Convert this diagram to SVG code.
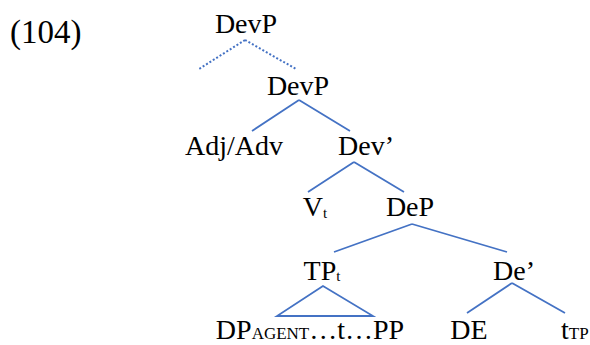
<svg xmlns="http://www.w3.org/2000/svg" width="590" height="345" viewBox="0 0 590 345" font-family="'Liberation Serif', 'Times New Roman', serif">
<style>
text{font-family:'Liberation Serif','Times New Roman',serif;fill:#000}
.n{font-size:28px;text-anchor:middle}
.s{font-size:17px}
.st{font-size:15px}
.e{stroke:#4472C4;stroke-width:1.8;fill:none}
.d{stroke:#4472C4;stroke-width:2;stroke-dasharray:2 2;fill:none}
</style>
<rect width="590" height="345" fill="#fff"/>
<text x="10" y="43" font-size="33" font-family="'Liberation Serif', serif">(104)</text>
<g id="connectors">
<path class="d" d="M245 40 L199 69 M245 40 L296 69"/>
<path class="e" d="M299 100 L252 131 M299 100 L350 131"/>
<path class="e" d="M354 162 L308 192 M354 162 L404 192"/>
<path class="e" d="M412 224 L334 252 M412 224 L507 252"/>
<path class="e" d="M323 286 L277 316 L373 316 Z"/>
<path class="e" d="M512 283 L467 313 M512 283 L565 313"/>
</g>
<g id="devp1"><text class="n" x="246" y="33">DevP</text></g>
<g id="devp2"><text class="n" x="298" y="95">DevP</text></g>
<g id="adjadv"><text class="n" x="234" y="155">Adj/Adv</text></g>
<g id="devbar"><text class="n" x="366" y="155">Dev’</text></g>
<g id="vt"><text class="n" x="315" y="216">V<tspan class="st" dy="2">t</tspan></text></g>
<g id="dep"><text class="n" x="410" y="216">DeP</text></g>
<g id="tpt"><text class="n" x="322" y="280">TP<tspan class="st" dy="1">t</tspan></text></g>
<g id="debar"><text class="n" x="514" y="280">De’</text></g>
<g id="dpagent"><text class="n" x="310" y="339">DP<tspan class="s">AGENT</tspan>…t…PP</text></g>
<g id="de"><text class="n" x="469" y="339">DE</text></g>
<g id="ttp"><text x="561" y="339" font-size="28">t<tspan class="s">TP</tspan></text></g>
</svg>
